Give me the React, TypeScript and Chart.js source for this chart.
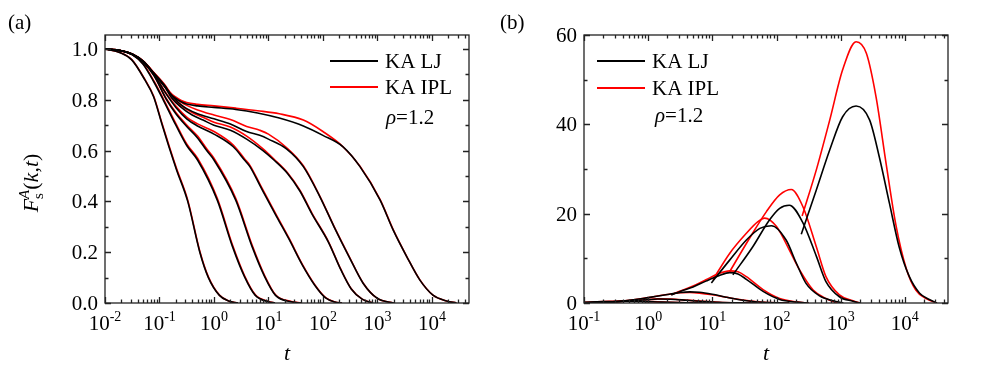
import React, { useEffect, useRef } from "react";
import { Chart, registerables } from "chart.js";

Chart.register(...registerables);

const SERIF = '"Liberation Serif", "Times New Roman", serif';
const RED = "#ff0000";
const BLACK = "#000000";

// ---------------- Panel (a): F_s^A(k,t) ----------------
const tA1 = [0.01, 0.019, 0.031, 0.054, 0.078, 0.11, 0.156, 0.206, 0.33, 0.55, 0.79, 1.26, 1.86, 2.75];
const fA1_LJ = [1.0, 0.985, 0.957, 0.878, 0.812, 0.707, 0.602, 0.524, 0.4, 0.2, 0.1, 0.03, 0.008, 0.0];
const fA1_IPL = [1.0, 0.986, 0.958, 0.88, 0.815, 0.711, 0.607, 0.529, 0.405, 0.204, 0.103, 0.031, 0.008, 0.0];

const tA2 = [0.01, 0.02, 0.0316, 0.05, 0.079, 0.117, 0.2, 0.316, 0.5, 1.15, 2.19, 3.63, 5.75, 10.0, 13.2];
const fA2_LJ = [1.0, 0.993, 0.978, 0.94, 0.87, 0.8, 0.7, 0.62, 0.563, 0.405, 0.222, 0.104, 0.03, 0.005, 0.0];
const fA2_IPL = [1.0, 0.993, 0.978, 0.942, 0.874, 0.805, 0.706, 0.626, 0.57, 0.412, 0.228, 0.108, 0.032, 0.006, 0.0];

const tA3 = [0.01, 0.02, 0.0316, 0.05, 0.079, 0.135, 0.2, 0.316, 0.5, 0.735, 1, 2.51, 5.01, 8.51, 13.5, 26.3, 39.8];
const fA3_LJ = [1.0, 0.993, 0.978, 0.948, 0.895, 0.8, 0.745, 0.695, 0.65, 0.6, 0.563, 0.405, 0.222, 0.104, 0.03, 0.005, 0.0];
const fA3_IPL = [1.0, 0.993, 0.978, 0.949, 0.897, 0.803, 0.75, 0.701, 0.657, 0.607, 0.57, 0.412, 0.228, 0.108, 0.032, 0.006, 0.0];

const tA4 = [0.01, 0.02, 0.0316, 0.05, 0.079, 0.126, 0.2, 0.316, 0.5, 1, 2.26, 3.63, 4.57, 7.08, 14.1, 24, 41.7, 70.8, 112, 166, 224];
const fA4_LJ = [1.0, 0.993, 0.979, 0.95, 0.9, 0.83, 0.77, 0.725, 0.697, 0.665, 0.615, 0.563, 0.537, 0.46, 0.34, 0.25, 0.15, 0.07, 0.02, 0.004, 0.0];
const fA4_IPL = [1.0, 0.993, 0.979, 0.951, 0.902, 0.833, 0.775, 0.732, 0.705, 0.675, 0.622, 0.568, 0.542, 0.465, 0.345, 0.254, 0.153, 0.072, 0.021, 0.004, 0.0];

const tA5 = [0.01, 0.02, 0.0316, 0.05, 0.079, 0.126, 0.166, 0.251, 0.398, 0.631, 1, 2, 3.98, 7.94, 12.6, 22.4, 38, 63.1, 126, 214, 331, 525, 832];
const fA5_LJ = [1.0, 0.993, 0.979, 0.951, 0.902, 0.85, 0.808, 0.77, 0.74, 0.72, 0.7, 0.68, 0.645, 0.6, 0.563, 0.51, 0.44, 0.35, 0.24, 0.13, 0.055, 0.015, 0.0];
const fA5_IPL = [1.0, 0.993, 0.979, 0.952, 0.904, 0.853, 0.812, 0.777, 0.75, 0.731, 0.712, 0.693, 0.657, 0.607, 0.567, 0.513, 0.443, 0.353, 0.242, 0.132, 0.056, 0.015, 0.0];

const tA6 = [0.01, 0.02, 0.0316, 0.05, 0.079, 0.126, 0.178, 0.251, 0.316, 0.5, 1, 2, 3.98, 6.92, 10, 21.4, 43.7, 88.1, 160, 302, 550, 1000, 1995];
const fA6_LJ = [1.0, 0.993, 0.98, 0.952, 0.904, 0.85, 0.81, 0.78, 0.765, 0.745, 0.725, 0.705, 0.675, 0.66, 0.645, 0.607, 0.537, 0.418, 0.3, 0.182, 0.077, 0.018, 0.0];
const fA6_IPL = [1.0, 0.993, 0.98, 0.953, 0.906, 0.853, 0.815, 0.79, 0.778, 0.76, 0.74, 0.722, 0.695, 0.68, 0.665, 0.612, 0.54, 0.42, 0.302, 0.184, 0.078, 0.018, 0.0];

const tA7 = [0.01, 0.02, 0.0316, 0.05, 0.079, 0.126, 0.155, 0.2, 0.251, 0.316, 0.5, 1, 2.51, 6.31, 15.8, 43.7, 100, 234, 479, 1122, 1950, 3467, 6026, 10471, 18621, 28184];
const fA7_LJ = [1.0, 0.993, 0.98, 0.952, 0.905, 0.855, 0.826, 0.805, 0.792, 0.783, 0.776, 0.77, 0.762, 0.748, 0.728, 0.697, 0.66, 0.615, 0.537, 0.405, 0.287, 0.182, 0.09, 0.031, 0.008, 0.0];
const fA7_IPL = [1.0, 0.993, 0.98, 0.953, 0.907, 0.858, 0.83, 0.81, 0.797, 0.789, 0.782, 0.776, 0.767, 0.757, 0.745, 0.72, 0.675, 0.615, 0.538, 0.407, 0.289, 0.183, 0.091, 0.031, 0.008, 0.0];

const xExpA = [-2, -1, 0, 1, 2, 3, 4];
const yTicksA = [0, 0.2, 0.4, 0.6, 0.8, 1.0];
const yMinorA = [0.1, 0.3, 0.5, 0.7, 0.9];

// ---------------- Panel (b): chi_4(t) ----------------
const tB0 = [0.1, 0.2, 0.4, 0.8, 1.6, 4, 10];
const cB0_LJ = [0.15, 0.3, 0.4, 0.35, 0.2, 0.05, 0.0];
const cB0_IPL = [0.18, 0.33, 0.45, 0.4, 0.22, 0.06, 0.0];

const tB1 = [0.1, 0.316, 0.631, 1, 1.41, 2.24, 4, 7.1, 12.6, 25, 50];
const cB1_LJ = [0.05, 0.25, 0.55, 0.75, 0.88, 0.85, 0.6, 0.35, 0.15, 0.04, 0.0];
const cB1_IPL = [0.05, 0.27, 0.58, 0.8, 0.93, 0.9, 0.65, 0.38, 0.17, 0.05, 0.0];

const tB2 = [0.1, 0.316, 0.631, 1, 2, 3.16, 4.47, 6.31, 10, 15.8, 25.1, 39.8, 63.1, 100, 158];
const cB2_LJ = [0.05, 0.3, 0.75, 1.2, 1.9, 2.35, 2.5, 2.4, 1.95, 1.35, 0.8, 0.4, 0.15, 0.04, 0.0];
const cB2_IPL = [0.05, 0.3, 0.76, 1.22, 1.92, 2.28, 2.35, 2.22, 1.85, 1.35, 0.85, 0.45, 0.18, 0.05, 0.0];

const tB3 = [2.29, 3.16, 5.01, 7.94, 12.6, 18.6, 25.1, 33.9, 61.7, 112, 204, 316];
const cB3_LJ = [1.8, 2.6, 3.6, 4.9, 6.1, 6.8, 6.5, 5.3, 2.6, 0.8, 0.2, 0.0];
const cB3_IPL = [1.85, 2.7, 3.8, 5.2, 6.6, 7.2, 7.0, 5.9, 3.0, 1.0, 0.25, 0.0];

const tB4_LJ = [9.66, 18.6, 33.9, 55.0, 83.2, 141, 204, 288, 468, 759, 1100];
const cB4_LJ = [4.5, 9.6, 14.1, 16.7, 17.3, 14.1, 8.9, 4.4, 1.6, 0.5, 0.0];
const tB4_IPL = [10.2, 18.6, 33.9, 51.3, 65.3, 100, 158, 229, 372, 589, 891];
const cB4_IPL = [5.2, 11.1, 15.6, 18.2, 19.0, 17.1, 11.9, 7.4, 2.9, 1.0, 0.0];

const tB5_LJ = [20.9, 42.7, 77.6, 112, 158, 257, 417, 589, 955, 1549, 1995];
const cB5_LJ = [6.3, 12.6, 18.6, 21.2, 21.9, 18.0, 10.5, 4.8, 1.4, 0.4, 0.0];
const tB5_IPL = [18.6, 38.0, 69.2, 112, 170, 257, 417, 589, 955, 1549, 1995];
const cB5_IPL = [7.0, 14.5, 20.4, 24.2, 25.4, 21.6, 12.6, 5.9, 1.8, 0.5, 0.0];

const tB6_LJ = [243, 417, 676, 1072, 1738, 2818, 3981, 5754, 8128, 11749, 16982, 23988, 31623];
const cB6_LJ = [15.4, 25.3, 34.3, 41.7, 44.1, 41.0, 32.8, 22.3, 12.6, 5.9, 2.2, 0.8, 0.0];
const tB6_IPL = [251, 417, 676, 1072, 1738, 2512, 3548, 5129, 7244, 10471, 14791, 21380, 31623];
const cB6_IPL = [19.5, 29.8, 41.0, 52.2, 58.5, 55.9, 46.2, 31.0, 17.5, 7.8, 2.9, 1.0, 0.0];

const xExpB = [-1, 0, 1, 2, 3, 4];
const yTicksB = [0, 20, 40, 60];
const yMinorB = [10, 30, 50];

const legendLabels = ["KA LJ", "KA IPL"];

// ---------------- helpers ----------------
type Seg = { s: string; f: string; dy?: number; stack?: boolean };
const rm = (n: number) => `${n}px ${SERIF}`;
const it = (n: number) => `italic ${n}px ${SERIF}`;

function drawRich(ctx: CanvasRenderingContext2D, segs: Seg[], x: number, y: number, align: "left" | "center" | "right") {
  let cur = 0;
  let prevStart = 0;
  const pos: number[] = [];
  for (const g of segs) {
    ctx.font = g.f;
    const w = ctx.measureText(g.s).width;
    if (g.stack) {
      pos.push(prevStart);
      cur = Math.max(cur, prevStart + w);
    } else {
      pos.push(cur);
      prevStart = cur;
      cur += w;
    }
  }
  const x0 = align === "center" ? x - cur / 2 : align === "right" ? x - cur : x;
  ctx.textAlign = "left";
  ctx.textBaseline = "alphabetic";
  segs.forEach((g, i) => {
    ctx.font = g.f;
    ctx.fillText(g.s, x0 + pos[i], y + (g.dy || 0));
  });
}

type PanelCfg = {
  xExp: number[];
  yTicks: number[];
  yMinor: number[];
  yDigits: number;
  yTitle: Seg[];
  yTitleX: number;
  yTitleY: number;
  panelLabel: string;
  panelX: number;
  legLineX0: number;
  legLineX1: number;
  legTextX: number;
  legY: number[];
  legBase: number[];
  rhoX: number;
  rhoY: number;
};

function framePlugin(cfg: PanelCfg) {
  return {
    id: "frame",
    afterDraw(chart: any) {
      const ctx: CanvasRenderingContext2D = chart.ctx;
      const ca = chart.chartArea;
      const xs = chart.scales.x;
      const ys = chart.scales.y;
      ctx.save();
      ctx.strokeStyle = "#222";
      ctx.fillStyle = "#000";
      ctx.lineWidth = 1.3;
      ctx.strokeRect(ca.left, ca.top, ca.right - ca.left, ca.bottom - ca.top);

      const lo = Math.floor(Math.log10(xs.min));
      const hi = Math.ceil(Math.log10(xs.max));
      ctx.beginPath();
      for (let e = lo; e <= hi; e++) {
        for (let m = 1; m <= 9; m++) {
          const v = m * Math.pow(10, e);
          if (v < xs.min * 0.999 || v > xs.max * 1.001) continue;
          const px = Math.round(xs.getPixelForValue(v)) + 0.5;
          const len = m === 1 ? 6 : 3.5;
          ctx.moveTo(px, ca.bottom);
          ctx.lineTo(px, ca.bottom - len);
          ctx.moveTo(px, ca.top);
          ctx.lineTo(px, ca.top + len);
        }
      }
      const yAll = [...cfg.yTicks.map((v) => [v, 6]), ...cfg.yMinor.map((v) => [v, 3.5])];
      for (const [v, len] of yAll) {
        const py = Math.round(ys.getPixelForValue(v)) + 0.5;
        ctx.moveTo(ca.left, py);
        ctx.lineTo(ca.left + len, py);
        ctx.moveTo(ca.right, py);
        ctx.lineTo(ca.right - len, py);
      }
      ctx.stroke();

      for (const e of cfg.xExp) {
        const px = xs.getPixelForValue(Math.pow(10, e));
        drawRich(ctx, [
          { s: "10", f: rm(21) },
          { s: String(e), f: rm(14), dy: -9 },
        ], px, ca.bottom + 27, "center");
      }
      for (const v of cfg.yTicks) {
        const py = ys.getPixelForValue(v);
        drawRich(ctx, [{ s: v.toFixed(cfg.yDigits), f: rm(21) }], ca.left - 7, py + 7, "right");
      }
      drawRich(ctx, [{ s: "t", f: it(22) }], (ca.left + ca.right) / 2, ca.bottom + 57, "center");
      ctx.save();
      ctx.translate(cfg.yTitleX, cfg.yTitleY);
      ctx.rotate(-Math.PI / 2);
      drawRich(ctx, cfg.yTitle, 0, 0, "center");
      ctx.restore();
      drawRich(ctx, [{ s: cfg.panelLabel, f: rm(21) }], cfg.panelX, 29, "left");

      const colors = [BLACK, RED];
      ctx.lineWidth = 1.8;
      legendLabels.forEach((lab, i) => {
        ctx.strokeStyle = colors[i];
        ctx.beginPath();
        ctx.moveTo(cfg.legLineX0, cfg.legY[i]);
        ctx.lineTo(cfg.legLineX1, cfg.legY[i]);
        ctx.stroke();
        ctx.fillStyle = "#000";
        drawRich(ctx, [{ s: lab, f: rm(21) }], cfg.legTextX, cfg.legBase[i], "left");
      });
      drawRich(ctx, [
        { s: "ρ", f: it(21) },
        { s: "=1.2", f: rm(21) },
      ], cfg.rhoX, cfg.rhoY, "left");
      ctx.restore();
    },
  };
}

const pts = (t: number[], v: number[]) => t.map((x, i) => ({ x, y: v[i] }));
const ds = (t: number[], v: number[], color: string) => ({
  data: pts(t, v),
  borderColor: color,
  backgroundColor: color,
  borderWidth: 1.6,
  pointRadius: 0,
  fill: false,
  cubicInterpolationMode: "monotone" as const,
});

function makeConfig(datasets: any[], xMin: number, xMax: number, yMax: number, pad: any, cfg: PanelCfg): any {
  return {
    type: "line",
    data: { datasets },
    options: {
      animation: false,
      responsive: false,
      maintainAspectRatio: false,
      events: [],
      layout: { padding: pad },
      plugins: { legend: { display: false }, tooltip: { enabled: false } },
      scales: {
        x: { type: "logarithmic", min: xMin, max: xMax, display: false },
        y: { type: "linear", min: 0, max: yMax, display: false },
      },
    },
    plugins: [framePlugin(cfg)],
  };
}

function configA() {
  const blacks = [
    ds(tA1, fA1_LJ, BLACK), ds(tA2, fA2_LJ, BLACK), ds(tA3, fA3_LJ, BLACK), ds(tA4, fA4_LJ, BLACK),
    ds(tA5, fA5_LJ, BLACK), ds(tA6, fA6_LJ, BLACK), ds(tA7, fA7_LJ, BLACK),
  ];
  const reds = [
    ds(tA1, fA1_IPL, RED), ds(tA2, fA2_IPL, RED), ds(tA3, fA3_IPL, RED), ds(tA4, fA4_IPL, RED),
    ds(tA5, fA5_IPL, RED), ds(tA6, fA6_IPL, RED), ds(tA7, fA7_IPL, RED),
  ];
  return makeConfig([...blacks, ...reds], 0.01, 48000, 1.055, { left: 105, right: 21, top: 35, bottom: 83 }, {
    xExp: xExpA,
    yTicks: yTicksA,
    yMinor: yMinorA,
    yDigits: 1,
    yTitle: [
      { s: "F", f: it(22) },
      { s: "A", f: it(15), dy: -9 },
      { s: "s", f: rm(15), dy: 5, stack: true },
      { s: "(", f: rm(22) },
      { s: "k", f: it(22) },
      { s: ",", f: rm(22) },
      { s: "t", f: it(22) },
      { s: ")", f: rm(22) },
    ],
    yTitleX: 38,
    yTitleY: 183,
    panelLabel: "(a)",
    panelX: 8,
    legLineX0: 330,
    legLineX1: 378,
    legTextX: 385,
    legY: [61, 87],
    legBase: [68, 94],
    rhoX: 386,
    rhoY: 124,
  });
}

function configB() {
  const blacks = [
    ds(tB0, cB0_LJ, BLACK), ds(tB1, cB1_LJ, BLACK), ds(tB2, cB2_LJ, BLACK), ds(tB3, cB3_LJ, BLACK),
    ds(tB4_LJ, cB4_LJ, BLACK), ds(tB5_LJ, cB5_LJ, BLACK), ds(tB6_LJ, cB6_LJ, BLACK),
  ];
  const reds = [
    ds(tB0, cB0_IPL, RED), ds(tB1, cB1_IPL, RED), ds(tB2, cB2_IPL, RED), ds(tB3, cB3_IPL, RED),
    ds(tB4_IPL, cB4_IPL, RED), ds(tB5_IPL, cB5_IPL, RED), ds(tB6_IPL, cB6_IPL, RED),
  ];
  return makeConfig([...blacks, ...reds], 0.1, 47000, 60, { left: 94, right: 33, top: 35, bottom: 83 }, {
    xExp: xExpB,
    yTicks: yTicksB,
    yMinor: yMinorB,
    yDigits: 0,
    yTitle: [
      { s: "χ", f: it(22) },
      { s: "4", f: rm(15), dy: 5 },
      { s: "(", f: rm(22) },
      { s: "t", f: it(22) },
      { s: ")", f: rm(22) },
    ],
    yTitleX: 527,
    yTitleY: 177,
    panelLabel: "(b)",
    panelX: 10,
    legLineX0: 107,
    legLineX1: 155,
    legTextX: 162,
    legY: [61, 88],
    legBase: [68, 95],
    rhoX: 165,
    rhoY: 122,
  });
}

function Panel({ width, make }: { width: number; make: () => any }) {
  const ref = useRef<HTMLCanvasElement>(null);
  useEffect(() => {
    const chart = new Chart(ref.current as HTMLCanvasElement, make());
    return () => chart.destroy();
  }, []);
  return <canvas ref={ref} width={width} height={386} style={{ display: "block", width, height: 386 }} />;
}

export default function App() {
  return (
    <div style={{ position: "absolute", left: 0, top: 0, width: 981, height: 386, display: "flex", background: "#fff" }}>
      <Panel width={490} make={configA} />
      <Panel width={491} make={configB} />
    </div>
  );
}
